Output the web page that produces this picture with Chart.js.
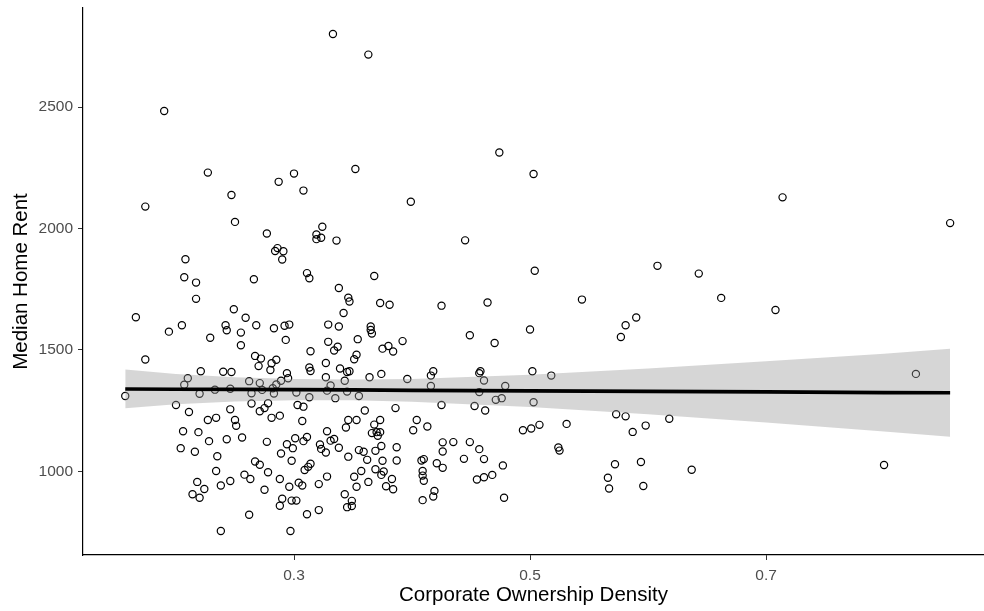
<!DOCTYPE html>
<html>
<head>
<meta charset="utf-8">
<script src="https://cdn.jsdelivr.net/npm/chart.js@4/dist/chart.umd.min.js"></script>
<style>
  html, body { margin: 0; padding: 0; background: #fff; }
  #wrap { width: 984px; height: 611px; }
</style>
</head>
<body>
<div id="wrap"><canvas id="rentChart" width="984" height="611"></canvas></div>
<script>
// ─── Corporate ownership density vs median home rent ───
// Open-circle scatter with a linear fit and its grey confidence ribbon.

const densityValues = [
  0.190, 0.227, 0.174, 0.247, 0.250, 0.208, 0.207, 0.217, 0.266,
  0.333, 0.363, 0.352, 0.300, 0.287, 0.308, 0.399, 0.277, 0.324, 0.319, 0.323, 0.319, 0.336, 0.286, 0.284, 0.291, 0.290, 0.311, 0.313, 0.368, 0.338,
  0.474, 0.503, 0.445, 0.504, 0.608, 0.643, 0.425, 0.464, 0.544, 0.449, 0.500, 0.470, 0.581, 0.590, 0.577, 0.458, 0.457, 0.461, 0.502, 0.518,
  0.479, 0.457, 0.471, 0.476, 0.503, 0.425, 0.453, 0.462, 0.573, 0.581, 0.598, 0.587, 0.618, 0.494, 0.501, 0.508, 0.531, 0.435, 0.449, 0.426,
  0.426, 0.457, 0.524, 0.525, 0.444, 0.461, 0.426, 0.477, 0.468, 0.461, 0.455, 0.572, 0.594, 0.566, 0.567, 0.596, 0.637, 0.478,
  0.714, 0.856, 0.662, 0.708, 0.827, 0.800,
  0.166, 0.194, 0.174, 0.157,
  0.217, 0.249, 0.259, 0.205, 0.242, 0.243, 0.255, 0.268, 0.283, 0.292, 0.296, 0.229, 0.255, 0.293, 0.267, 0.272, 0.270, 0.281, 0.285, 0.280,
  0.294, 0.295, 0.221, 0.240, 0.247, 0.210, 0.207, 0.262, 0.271, 0.289, 0.285, 0.282, 0.233, 0.246, 0.220, 0.264, 0.273, 0.283, 0.302, 0.200,
  0.211, 0.264, 0.278, 0.275, 0.271, 0.246, 0.234, 0.227, 0.250, 0.281, 0.288, 0.303,
  0.251, 0.206, 0.219, 0.228, 0.243, 0.256, 0.277, 0.204, 0.216, 0.235, 0.294, 0.299, 0.301, 0.289, 0.298, 0.267, 0.271, 0.234, 0.278, 0.258,
  0.263, 0.288, 0.218, 0.246, 0.238, 0.224, 0.275, 0.296, 0.214, 0.220, 0.290, 0.298, 0.302, 0.288, 0.262, 0.238, 0.297, 0.304, 0.307,
  0.346, 0.347, 0.373, 0.381, 0.342, 0.329, 0.338, 0.365, 0.365, 0.366, 0.354, 0.329, 0.337, 0.334, 0.314, 0.375, 0.380, 0.384, 0.392, 0.353,
  0.351, 0.327, 0.313, 0.314, 0.339, 0.345, 0.347, 0.374, 0.364, 0.327, 0.343, 0.396, 0.418, 0.416, 0.416, 0.331, 0.328, 0.345, 0.355, 0.335,
  0.313, 0.308, 0.360, 0.386, 0.346, 0.353, 0.373, 0.404,
  0.368, 0.413, 0.401, 0.344, 0.328, 0.366, 0.370, 0.373, 0.371, 0.311, 0.308, 0.334, 0.331, 0.322, 0.323, 0.327, 0.338, 0.346, 0.355, 0.359,
  0.369, 0.374, 0.387, 0.362, 0.375, 0.387, 0.408, 0.410, 0.421, 0.314, 0.312, 0.309, 0.357, 0.369, 0.376, 0.374, 0.409, 0.409, 0.410, 0.328,
  0.351, 0.363, 0.383, 0.307, 0.321, 0.353, 0.378, 0.384, 0.419, 0.418, 0.343, 0.349, 0.349, 0.345, 0.409, 0.321, 0.311
];

const rentValues = [
  2484, 2230, 2090, 2138, 2027, 1873, 1799, 1777, 1791,
  2801, 2716, 2245, 2226, 2192, 2156, 2110, 1979, 2007, 1975, 1962, 1956, 1950, 1919, 1907, 1906, 1872, 1816, 1795, 1804, 1755,
  2313, 2224, 1951, 1826, 1846, 1814, 1682, 1695, 1707, 1560, 1584, 1528, 1601, 1633, 1553, 1412, 1404, 1374, 1412, 1394,
  1351, 1326, 1294, 1301, 1284, 1273, 1269, 1250, 1235, 1226, 1188, 1162, 1216, 1169, 1176, 1191, 1195, 1120, 1120, 1119,
  1081, 1091, 1098, 1085, 1051, 1050, 1014, 1024, 985, 975, 966, 1029, 1038, 973, 929, 939, 1006, 891,
  2128, 2022, 1714, 1664, 1401, 1026,
  1634, 1575, 1460, 1310,
  1710, 1667, 1632, 1601, 1601, 1581, 1571, 1601, 1589, 1599, 1604, 1550, 1519, 1541, 1475, 1464, 1433, 1445, 1459, 1417,
  1404, 1383, 1412, 1410, 1409, 1383, 1356, 1371, 1363, 1373, 1357, 1342, 1336, 1340, 1319, 1321, 1335, 1320, 1324, 1273,
  1244, 1279, 1280, 1260, 1247, 1255, 1220, 1211, 1211, 1220, 1229, 1273,
  1187, 1165, 1161, 1124, 1132, 1139, 1121, 1095, 1080, 1062, 1111, 1095, 1136, 1073, 1043, 1040, 1027, 1001, 996, 986,
  968, 968, 956, 960, 941, 927, 924, 936, 905, 891, 887, 879, 879, 858, 821, 754, 754, 953, 1207,
  1715, 1699, 1693, 1686, 1652, 1604, 1596, 1596, 1582, 1567, 1544, 1533, 1513, 1497, 1494, 1505, 1516, 1493, 1536, 1480,
  1461, 1446, 1427, 1413, 1423, 1409, 1412, 1401, 1387, 1387, 1373, 1380, 1412, 1394, 1351, 1353, 1332, 1328, 1310, 1301,
  1305, 1266, 1250, 1260, 1211, 1211, 1211, 1211,
  1192, 1184, 1169, 1180, 1165, 1157, 1161, 1161, 1146, 1141, 1124, 1133, 1126, 1110, 1092, 1077, 1097, 1060, 1087, 1080,
  1084, 1104, 1099, 1047, 1043, 1044, 1044, 1050, 1033, 1031, 1018, 1005, 1001, 1008, 999, 985, 1001, 982, 961, 978,
  977, 956, 968, 941, 947, 936, 938, 926, 919, 896, 905, 878, 857, 852, 881, 840, 823
];

// fitted line and 95% band, read along the x range
const fitX     = [0.157, 0.200, 0.250, 0.300, 0.350, 0.400, 0.500, 0.600, 0.700, 0.800, 0.856];
const fitY     = [1339, 1338, 1337, 1336, 1335, 1333, 1331, 1329, 1327, 1324, 1323];
const bandLow  = [1259, 1276, 1287, 1292, 1292, 1286, 1265, 1235, 1201, 1164, 1142];
const bandHigh = [1419, 1400, 1387, 1380, 1378, 1380, 1397, 1423, 1453, 1484, 1504];

const xTickValues = [0.3, 0.5, 0.7];
const xTickLabels = ["0.3", "0.5", "0.7"];
const yTickValues = [1000, 1500, 2000, 2500];
const yTickLabels = ["1000", "1500", "2000", "2500"];

const pairs = (xs, ys) => xs.map((x, i) => ({ x: x, y: ys[i] }));

const fontFamily = "'Liberation Sans', Arial, Helvetica, sans-serif";
const tickColor = "#4d4d4d";

new Chart(document.getElementById("rentChart"), {
  type: "scatter",
  data: {
    datasets: [
      {
        data: pairs(densityValues, rentValues),
        pointRadius: 3.6,
        pointBorderWidth: 1.2,
        pointBorderColor: "#000",
        pointBackgroundColor: "rgba(0,0,0,0)",
        order: 3
      },
      {
        type: "line",
        data: pairs(fitX, bandHigh),
        borderWidth: 0,
        pointRadius: 0,
        backgroundColor: "rgba(153,153,153,0.4)",
        fill: 2,
        order: 2
      },
      {
        type: "line",
        data: pairs(fitX, bandLow),
        borderWidth: 0,
        pointRadius: 0,
        fill: false,
        order: 2
      },
      {
        type: "line",
        data: pairs(fitX, fitY),
        borderColor: "#000",
        borderWidth: 3.6,
        pointRadius: 0,
        fill: false,
        order: 1
      }
    ]
  },
  options: {
    responsive: false,
    animation: false,
    events: [],
    // no automatic room for point radii: the plot runs to the right edge
    layout: { autoPadding: false, padding: { top: 8, right: 0, left: 0, bottom: 0 } },
    plugins: {
      legend: { display: false },
      tooltip: { enabled: false }
    },
    scales: {
      x: {
        type: "linear",
        min: 0.1212,
        max: 0.8847,
        afterBuildTicks: (scale) => { scale.ticks = xTickValues.map((v) => ({ value: v })); },
        afterFit: (scale) => {
          scale.height = 56;
          scale.paddingLeft = 0;
          scale.paddingRight = 0;
        },
        grid: { drawOnChartArea: false, drawTicks: true, tickLength: 5, color: "#333" },
        border: { display: true, color: "#000", width: 1.2 },
        ticks: {
          color: tickColor,
          padding: 6,
          font: { family: fontFamily, size: 15.5 },
          callback: (v) => xTickLabels[xTickValues.indexOf(v)]
        },
        title: {
          display: true,
          text: "Corporate Ownership Density",
          color: "#000",
          font: { family: fontFamily, size: 20.5 },
          padding: { top: 0, bottom: 3 }
        }
      },
      y: {
        type: "linear",
        min: 655,
        max: 2908,
        afterBuildTicks: (scale) => { scale.ticks = yTickValues.map((v) => ({ value: v })); },
        afterFit: (scale) => {
          scale.width = 83;
          scale.paddingTop = 0;
          scale.paddingBottom = 0;
        },
        grid: { drawOnChartArea: false, drawTicks: true, tickLength: 5, color: "#333" },
        border: { display: true, color: "#000", width: 1.2 },
        ticks: {
          color: tickColor,
          padding: 5,
          font: { family: fontFamily, size: 15.5 },
          callback: (v) => yTickLabels[yTickValues.indexOf(v)]
        },
        title: {
          display: true,
          text: "Median Home Rent",
          color: "#000",
          font: { family: fontFamily, size: 20.5 },
          padding: { top: 9, bottom: 0 }
        }
      }
    }
  }
});
</script>
</body>
</html>
